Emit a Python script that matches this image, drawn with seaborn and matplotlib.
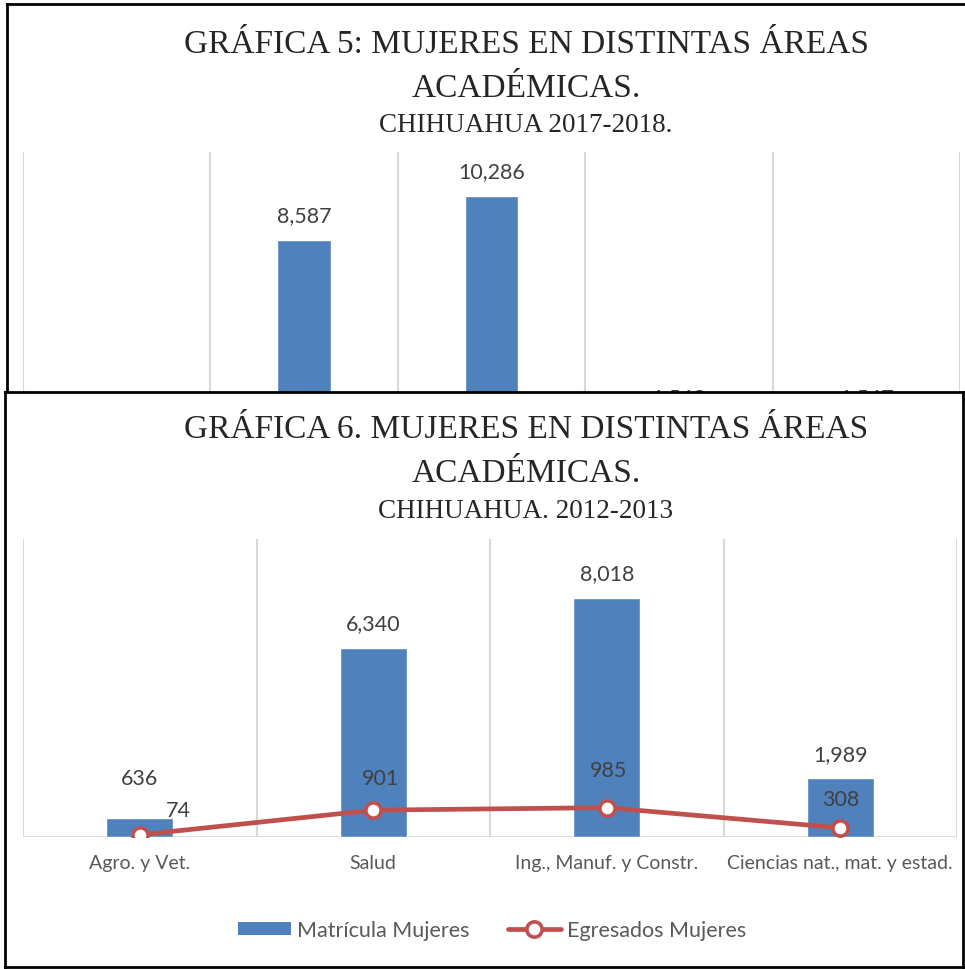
import numpy as np
import matplotlib
matplotlib.use("Agg")
import matplotlib.pyplot as plt
import seaborn as sns
from matplotlib.patches import Patch
from matplotlib.lines import Line2D

# Gráfica 5 (2017-2018) - mostly covered by Gráfica 6
areas_5 = ["Agro. y Vet.", "Salud", "Ing., Manuf. y Constr.",
           "Ciencias nat., mat. y estad.", "Servicios"]
matricula_5 = [702, 8587, 10286, 1563, 1547]

# Gráfica 6 (2012-2013)
areas_6 = ["Agro. y Vet.", "Salud", "Ing., Manuf. y Constr.",
           "Ciencias nat., mat. y estad."]
matricula_6 = [636, 6340, 8018, 1989]
egresados_6 = [74, 901, 985, 308]

# label offsets in pixels (moved by hand in the original)
off_bar_6 = [(0, 40), (0, 25), (0, 25), (0, 24)]
off_line_6 = [(39, 25), (7, 32), (2, 38), (0, 29)]

BLUE = "#4F81BD"
RED = "#C0504D"
GRID = "#D9D9D9"
LABEL = "#404040"
TICK = "#595959"

sns.set_theme(style="white")
plt.rcParams["font.family"] = ["Lato", "DejaVu Sans"]
SERIF = ["Liberation Serif", "DejaVu Serif"]

W, H = 965, 970
fig = plt.figure(figsize=(W / 100, H / 100), dpi=100)


def box(x0, y0, x1, y1):
    return [x0 / W, 1 - y1 / H, (x1 - x0) / W, (y1 - y0) / H]


def fy(y):
    return 1 - y / H


def frame(rect, z):
    f = fig.add_axes(rect, zorder=z)
    f.set_xticks([])
    f.set_yticks([])
    f.set_facecolor("white")
    for s in f.spines.values():
        s.set_color("black")
        s.set_linewidth(2)
    return f


def style_chart(ax, n, ymax):
    ax.set_xlim(-0.5, n - 0.5)
    ax.set_ylim(0, ymax)
    ax.patch.set_alpha(0)
    for s in ax.spines.values():
        s.set_visible(False)
    ax.set_yticks([])
    ax.set_xticks(np.arange(-0.5, n), minor=True)
    ax.grid(False, which="major")
    ax.grid(True, which="minor", axis="x", color=GRID, lw=1.5)
    ax.set_axisbelow(True)
    ax.axhline(0, color=GRID, lw=2, zorder=0.5)
    ax.tick_params(axis="x", which="major", length=0, labelsize=14,
                   labelcolor=TICK, pad=12)
    ax.tick_params(axis="x", which="minor", length=7, width=1.5,
                   color=GRID, direction="out")
    ax.set_xlabel("")
    ax.set_ylabel("")


# ---------- Gráfica 5 ----------
frame5 = frame(box(7, 5, 1000, 400), 0)
frame5.text(526 / W, fy(53), "GRÁFICA 5: MUJERES EN DISTINTAS ÁREAS",
            transform=fig.transFigure, ha="center", va="baseline",
            fontsize=24, family=SERIF)
frame5.text(526 / W, fy(97), "ACADÉMICAS.", transform=fig.transFigure,
            ha="center", va="baseline", fontsize=24, family=SERIF)
frame5.text(526 / W, fy(132), "CHIHUAHUA 2017-2018.", transform=fig.transFigure,
            ha="center", va="baseline", fontsize=19.5, family=SERIF)

ax5 = fig.add_axes(box(23, 153, 960, 463), zorder=1)
sns.barplot(x=areas_5, y=matricula_5, color=BLUE, saturation=1, width=0.285,
            errorbar=None, ax=ax5)
style_chart(ax5, len(areas_5), 12000)
# its category labels sit under the pasted Gráfica 6
ax5.tick_params(axis="x", which="both", labelbottom=False)
for i, v in enumerate(matricula_5):
    ax5.annotate(f"{v:,}", (i, v), xytext=(0, 25), textcoords="offset pixels",
                 ha="center", va="center", fontsize=15.5, color=LABEL)

# ---------- Gráfica 6 (pasted on top) ----------
panel6 = frame(box(5, 393, 963, 968), 2)
panel6.text(526 / W, fy(438), "GRÁFICA 6. MUJERES EN DISTINTAS ÁREAS",
            transform=fig.transFigure, ha="center", va="baseline",
            fontsize=24, family=SERIF)
panel6.text(526 / W, fy(482), "ACADÉMICAS.", transform=fig.transFigure,
            ha="center", va="baseline", fontsize=24, family=SERIF)
panel6.text(526 / W, fy(518), "CHIHUAHUA. 2012-2013", transform=fig.transFigure,
            ha="center", va="baseline", fontsize=19.5, family=SERIF)

ax6 = fig.add_axes(box(23, 540, 957, 838), zorder=3)
sns.barplot(x=areas_6, y=matricula_6, color=BLUE, saturation=1, width=0.285,
            errorbar=None, ax=ax6)
sns.pointplot(x=areas_6, y=egresados_6, color=RED, markers="o", linestyles="-",
              errorbar=None, linewidth=3.4, markersize=11,
              markeredgewidth=2.6, markerfacecolor="white",
              markeredgecolor=RED, ax=ax6)
style_chart(ax6, len(areas_6), 10000)

for i, v in enumerate(matricula_6):
    ax6.annotate(f"{v:,}", (i, v), xytext=off_bar_6[i],
                 textcoords="offset pixels", ha="center", va="center",
                 fontsize=15.5, color=LABEL)
for i, v in enumerate(egresados_6):
    ax6.annotate(f"{v:,}", (i, v), xytext=off_line_6[i],
                 textcoords="offset pixels", ha="center", va="center",
                 fontsize=15.5, color=LABEL, zorder=5)

handles = [
    Patch(facecolor=BLUE, edgecolor="none"),
    Line2D([], [], color=RED, lw=3.4, marker="o", markersize=11,
           markeredgewidth=2.6, markerfacecolor="white", markeredgecolor=RED),
]
fig.legend(handles, ["Matrícula Mujeres", "Egresados Mujeres"],
           loc="center", bbox_to_anchor=(492 / W, fy(931)), ncol=2,
           frameon=False, fontsize=15.5, labelcolor=TICK,
           handlelength=2.45, handleheight=0.56, handletextpad=0.28,
           columnspacing=1.8)

fig.savefig("out.png", dpi=100)
